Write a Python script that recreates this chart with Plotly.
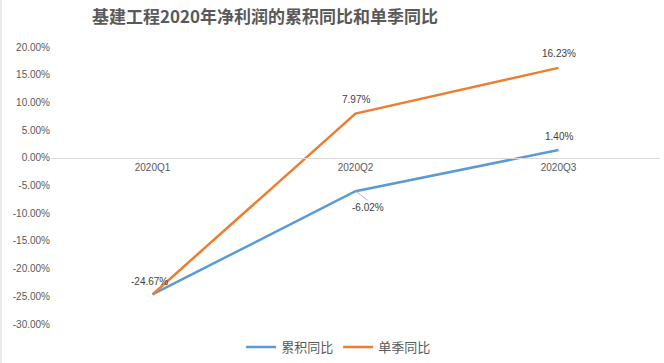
import plotly.graph_objects as go

categories = ["2020Q1", "2020Q2", "2020Q3"]
cum_yoy = [-24.67, -6.02, 1.40]
quarter_yoy = [-24.67, 7.97, 16.23]
y_ticks = [20, 15, 10, 5, 0, -5, -10, -15, -20, -25, -30]

BLUE = "#5B9BD5"
ORANGE = "#ED7D31"
GRAY = "#595959"
FONT = "Noto Sans CJK SC"
NUMFONT = "Liberation Sans, Arial"

fig = go.Figure()
fig.add_trace(go.Scatter(x=categories, y=cum_yoy, mode="lines", name="累积同比",
                         line=dict(color=BLUE, width=2.5)))
fig.add_trace(go.Scatter(x=categories, y=quarter_yoy, mode="lines", name="单季同比",
                         line=dict(color=ORANGE, width=2.5)))

label_font = dict(family=NUMFONT, size=10, color="#404040")
fig.add_annotation(x=categories[0], y=quarter_yoy[0], text=f"{quarter_yoy[0]:.2f}%",
                   showarrow=False, xshift=-3, yshift=13, font=label_font)
fig.add_annotation(x=categories[1], y=quarter_yoy[1], text=f"{quarter_yoy[1]:.2f}%",
                   showarrow=False, yshift=14, font=label_font)
fig.add_annotation(x=categories[2], y=quarter_yoy[2], text=f"{quarter_yoy[2]:.2f}%",
                   showarrow=False, yshift=14, font=label_font)
fig.add_annotation(x=categories[2], y=cum_yoy[2], text=f"{cum_yoy[2]:.2f}%",
                   showarrow=False, yshift=14, font=label_font)
fig.add_annotation(x=categories[1], y=cum_yoy[1], text=f"{cum_yoy[1]:.2f}%",
                   showarrow=True, arrowhead=0, arrowwidth=0.8, arrowcolor="#A6A6A6",
                   ax=12, ay=9, xanchor="center", yanchor="top",
                   font=label_font, standoff=0)

# faint chart border on the left edge
fig.add_shape(type="line", xref="paper", yref="paper",
              x0=(1 - 51) / 609, x1=(1 - 51) / 609, y0=-39 / 277, y1=1 + 47 / 277,
              line=dict(color="#D9D9D9", width=1))

fig.update_layout(
    width=664, height=363,
    margin=dict(l=51, r=4, t=47, b=39, autoexpand=False),
    paper_bgcolor="white", plot_bgcolor="white",
    title=dict(text="<b>基建工程2020年净利润的累积同比和单季同比</b>",
               font=dict(family=FONT, size=17, color=GRAY),
               x=265 / 664, xanchor="center", y=1 - 17 / 363, yanchor="middle"),
    showlegend=True,
    legend=dict(orientation="h", x=0.51, xanchor="center", xref="container",
                y=16 / 363, yref="container", yanchor="middle",
                font=dict(family=FONT, size=13, color=GRAY),
                itemwidth=30, tracegroupgap=0),
    xaxis=dict(type="category", anchor="free", position=0.6, automargin=False,
               showline=True, linecolor="#D9D9D9", linewidth=1,
               ticks="", showgrid=False, zeroline=False,
               tickfont=dict(family=NUMFONT, size=10, color=GRAY),
               range=[-0.5, 2.5]),
    yaxis=dict(range=[-30, 20], tickvals=y_ticks, automargin=False,
               ticktext=[f"{v:.2f}%" for v in y_ticks],
               showgrid=False, zeroline=False, showline=False, ticks="",
               tickfont=dict(family=NUMFONT, size=10, color=GRAY)),
)

fig.write_html("out.html", config={"displayModeBar": False},
               post_script="document.body.style.margin='0';document.body.style.overflow='hidden';")
